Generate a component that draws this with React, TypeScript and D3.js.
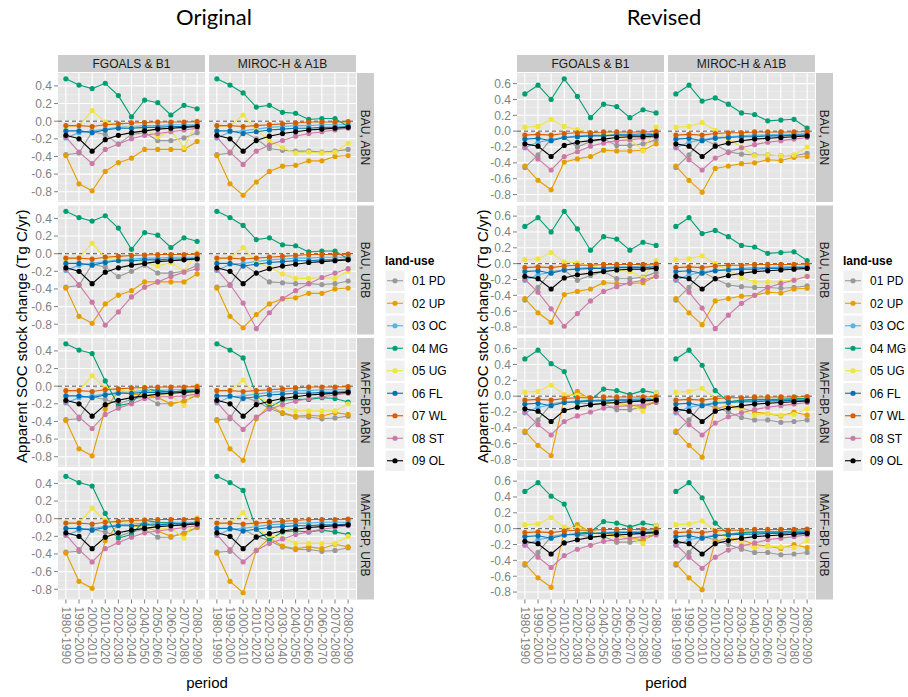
import React, { useEffect, useRef } from "react";
import * as d3 from "d3";

const periods = [
  "1980-1990", "1990-2000", "2000-2010", "2010-2020", "2020-2030", "2030-2040",
  "2040-2050", "2050-2060", "2060-2070", "2070-2080", "2080-2090",
];
const landUse = ["01 PD", "02 UP", "03 OC", "04 MG", "05 UG", "06 FL", "07 WL", "08 ST", "09 OL"];
const landUseColors = ["#999999", "#E69F00", "#56B4E9", "#009E73", "#F0E442", "#0072B2", "#D55E00", "#CC79A7", "#000000"];
const models = ["FGOALS & B1", "MIROC-H & A1B"];
const scenarios = ["BAU, ABN", "BAU, URB", "MAFF-BP, ABN", "MAFF-BP, URB"];
const originalTicks = [-0.8, -0.6, -0.4, -0.2, 0, 0.2, 0.4];
const revisedTicks = [-0.8, -0.6, -0.4, -0.2, 0, 0.2, 0.4, 0.6];

// rows shared between scenarios
const origFgOC = [-0.19, -0.13, -0.11, -0.09, -0.07, -0.06, -0.05, -0.05, -0.04, -0.04, -0.04];
const origFgFL = [-0.11, -0.11, -0.13, -0.1, -0.08, -0.08, -0.07, -0.07, -0.06, -0.06, -0.05];
const origFgWL = [-0.05, -0.05, -0.06, -0.04, -0.03, -0.02, -0.015, -0.01, -0.01, -0.01, -0.005];
const origMiOC = [-0.19, -0.12, -0.11, -0.09, -0.07, -0.06, -0.05, -0.05, -0.04, -0.04, -0.04];
const origMiFL = [-0.11, -0.11, -0.14, -0.12, -0.1, -0.09, -0.08, -0.08, -0.07, -0.07, -0.06];
const origMiWL = [-0.05, -0.05, -0.06, -0.05, -0.04, -0.03, -0.02, -0.01, -0.01, -0.01, -0.005];
const revFgOC = [-0.21, -0.14, -0.11, -0.08, -0.06, -0.05, -0.05, -0.04, -0.04, -0.03, -0.03];
const revFgFL = [-0.1, -0.09, -0.12, -0.08, -0.07, -0.06, -0.06, -0.05, -0.05, -0.05, -0.04];
const revMiOC = [-0.21, -0.14, -0.11, -0.08, -0.07, -0.06, -0.05, -0.05, -0.04, -0.04, -0.03];
const revMiFL = [-0.1, -0.09, -0.12, -0.09, -0.08, -0.07, -0.07, -0.06, -0.06, -0.05, -0.05];
const revWL = [-0.05, -0.04, -0.05, -0.03, -0.02, -0.02, -0.01, -0.01, -0.01, -0.01, -0.005];

// panels: rows in landUse order PD, UP, OC, MG, UG, FL, WL, ST, OL
const origFgBauAbn = [
  [-0.38, -0.36, -0.12, -0.15, -0.26, -0.15, -0.13, -0.22, -0.22, -0.19, -0.13],
  [-0.39, -0.71, -0.79, -0.57, -0.47, -0.42, -0.32, -0.32, -0.32, -0.32, -0.23],
  origFgOC,
  [0.48, 0.41, 0.37, 0.43, 0.29, 0.05, 0.24, 0.21, 0.07, 0.18, 0.14],
  [-0.06, -0.05, 0.12, -0.01, -0.04, -0.06, -0.09, -0.18, -0.11, -0.3, 0.0],
  origFgFL,
  origFgWL,
  [-0.18, -0.35, -0.48, -0.32, -0.26, -0.2, -0.16, -0.14, -0.12, -0.1, -0.08],
  [-0.16, -0.2, -0.34, -0.21, -0.16, -0.13, -0.11, -0.09, -0.08, -0.07, -0.06],
];
const origMiBauAbn = [
  [-0.38, -0.36, -0.12, -0.2, -0.31, -0.33, -0.34, -0.34, -0.35, -0.34, -0.32],
  [-0.39, -0.71, -0.84, -0.69, -0.57, -0.51, -0.5, -0.45, -0.45, -0.4, -0.39],
  origMiOC,
  [0.48, 0.41, 0.32, 0.16, 0.18, 0.1, 0.09, 0.02, 0.03, 0.03, -0.06],
  [-0.06, -0.05, 0.07, -0.1, -0.22, -0.3, -0.36, -0.35, -0.36, -0.35, -0.25],
  origMiFL,
  origMiWL,
  [-0.18, -0.35, -0.49, -0.34, -0.27, -0.22, -0.17, -0.14, -0.12, -0.1, -0.08],
  [-0.16, -0.2, -0.34, -0.22, -0.17, -0.14, -0.12, -0.1, -0.09, -0.08, -0.07],
];
const origFgBauUrb = [
  [-0.38, -0.36, -0.12, -0.15, -0.26, -0.2, -0.13, -0.22, -0.22, -0.2, -0.13],
  [-0.39, -0.71, -0.79, -0.57, -0.47, -0.42, -0.32, -0.32, -0.32, -0.32, -0.23],
  origFgOC,
  [0.48, 0.41, 0.37, 0.43, 0.29, 0.05, 0.24, 0.21, 0.07, 0.18, 0.14],
  [-0.06, -0.05, 0.12, -0.05, -0.07, -0.08, -0.1, -0.14, -0.1, -0.2, 0.01],
  origFgFL,
  origFgWL,
  [-0.18, -0.35, -0.55, -0.81, -0.66, -0.49, -0.38, -0.32, -0.26, -0.21, -0.17],
  [-0.16, -0.2, -0.34, -0.21, -0.16, -0.13, -0.11, -0.09, -0.08, -0.07, -0.06],
];
const origMiBauUrb = [
  [-0.38, -0.36, -0.12, -0.22, -0.32, -0.33, -0.34, -0.34, -0.35, -0.34, -0.31],
  [-0.39, -0.71, -0.84, -0.69, -0.57, -0.51, -0.5, -0.45, -0.45, -0.4, -0.39],
  origMiOC,
  [0.48, 0.41, 0.32, 0.16, 0.18, 0.1, 0.09, 0.02, 0.03, 0.03, -0.06],
  [-0.06, -0.05, 0.07, -0.1, -0.15, -0.23, -0.28, -0.28, -0.27, -0.28, -0.2],
  origMiFL,
  origMiWL,
  [-0.18, -0.35, -0.56, -0.85, -0.67, -0.51, -0.42, -0.34, -0.27, -0.22, -0.17],
  [-0.16, -0.2, -0.34, -0.22, -0.17, -0.14, -0.12, -0.1, -0.09, -0.08, -0.07],
];
const origFgMaffAbn = [
  [-0.38, -0.37, -0.12, -0.15, -0.2, -0.15, -0.12, -0.2, -0.2, -0.17, -0.1],
  [-0.39, -0.71, -0.79, -0.26, -0.06, -0.09, -0.1, -0.13, -0.2, -0.17, -0.1],
  origFgOC,
  [0.48, 0.41, 0.37, 0.06, -0.22, -0.19, -0.03, -0.05, -0.07, -0.05, -0.04],
  [-0.06, -0.05, 0.12, -0.02, -0.05, -0.06, -0.01, -0.1, -0.1, -0.22, 0.01],
  origFgFL,
  origFgWL,
  [-0.18, -0.35, -0.48, -0.32, -0.25, -0.2, -0.14, -0.12, -0.12, -0.11, -0.09],
  [-0.16, -0.2, -0.34, -0.21, -0.16, -0.13, -0.11, -0.09, -0.08, -0.07, -0.06],
];
const origMiMaffAbn = [
  [-0.38, -0.37, -0.12, -0.17, -0.25, -0.31, -0.35, -0.35, -0.37, -0.36, -0.34],
  [-0.39, -0.71, -0.84, -0.37, -0.22, -0.3, -0.34, -0.33, -0.34, -0.3, -0.32],
  origMiOC,
  [0.48, 0.41, 0.32, -0.1, -0.24, -0.16, -0.15, -0.15, -0.13, -0.14, -0.18],
  [-0.06, -0.05, 0.07, -0.12, -0.18, -0.23, -0.28, -0.28, -0.28, -0.28, -0.2],
  origMiFL,
  origMiWL,
  [-0.18, -0.35, -0.49, -0.35, -0.26, -0.21, -0.17, -0.14, -0.12, -0.1, -0.08],
  [-0.16, -0.2, -0.34, -0.21, -0.17, -0.14, -0.12, -0.1, -0.09, -0.08, -0.07],
];
const origFgMaffUrb = [
  [-0.38, -0.37, -0.12, -0.15, -0.2, -0.15, -0.12, -0.21, -0.21, -0.16, -0.1],
  [-0.39, -0.71, -0.79, -0.25, -0.06, -0.08, -0.1, -0.14, -0.2, -0.17, -0.1],
  origFgOC,
  [0.48, 0.41, 0.37, 0.06, -0.22, -0.18, -0.02, -0.04, -0.05, -0.06, -0.04],
  [-0.06, -0.05, 0.12, -0.02, -0.05, -0.05, -0.01, -0.12, -0.1, -0.22, 0.01],
  origFgFL,
  origFgWL,
  [-0.18, -0.35, -0.49, -0.34, -0.27, -0.21, -0.16, -0.14, -0.12, -0.1, -0.08],
  [-0.16, -0.2, -0.34, -0.21, -0.16, -0.13, -0.11, -0.09, -0.08, -0.07, -0.06],
];
const origMiMaffUrb = [
  [-0.38, -0.37, -0.12, -0.2, -0.25, -0.32, -0.35, -0.35, -0.37, -0.36, -0.33],
  [-0.39, -0.71, -0.84, -0.36, -0.22, -0.31, -0.34, -0.32, -0.34, -0.29, -0.32],
  origMiOC,
  [0.48, 0.41, 0.32, -0.12, -0.24, -0.15, -0.14, -0.15, -0.13, -0.15, -0.18],
  [-0.06, -0.05, 0.07, -0.12, -0.19, -0.22, -0.28, -0.28, -0.28, -0.28, -0.2],
  origMiFL,
  origMiWL,
  [-0.18, -0.35, -0.49, -0.36, -0.28, -0.23, -0.18, -0.15, -0.12, -0.1, -0.08],
  [-0.16, -0.2, -0.34, -0.21, -0.17, -0.14, -0.12, -0.1, -0.09, -0.08, -0.07],
];

const revFgBauAbn = [
  [-0.46, -0.3, -0.1, -0.08, -0.2, -0.13, -0.1, -0.18, -0.18, -0.16, -0.11],
  [-0.44, -0.62, -0.74, -0.39, -0.35, -0.32, -0.24, -0.25, -0.25, -0.24, -0.16],
  revFgOC,
  [0.47, 0.58, 0.4, 0.66, 0.44, 0.17, 0.34, 0.31, 0.17, 0.27, 0.23],
  [0.05, 0.06, 0.15, 0.06, 0.02, -0.02, -0.04, -0.06, -0.1, -0.25, 0.05],
  revFgFL,
  revWL,
  [-0.2, -0.35, -0.49, -0.32, -0.26, -0.19, -0.15, -0.12, -0.11, -0.09, -0.07],
  [-0.16, -0.19, -0.32, -0.18, -0.14, -0.12, -0.1, -0.08, -0.07, -0.07, -0.06],
];
const revMiBauAbn = [
  [-0.46, -0.3, -0.1, -0.17, -0.26, -0.29, -0.3, -0.3, -0.31, -0.31, -0.28],
  [-0.44, -0.62, -0.77, -0.47, -0.44, -0.41, -0.4, -0.36, -0.37, -0.33, -0.32],
  revMiOC,
  [0.47, 0.58, 0.38, 0.42, 0.34, 0.23, 0.21, 0.13, 0.14, 0.15, 0.04],
  [0.05, 0.06, 0.11, 0.01, -0.1, -0.2, -0.31, -0.3, -0.31, -0.3, -0.2],
  revMiFL,
  revWL,
  [-0.2, -0.36, -0.49, -0.34, -0.27, -0.21, -0.17, -0.14, -0.12, -0.1, -0.08],
  [-0.16, -0.19, -0.32, -0.19, -0.15, -0.12, -0.1, -0.09, -0.08, -0.07, -0.06],
];
const revFgBauUrb = [
  [-0.46, -0.3, -0.1, -0.08, -0.21, -0.15, -0.1, -0.19, -0.19, -0.17, -0.11],
  [-0.44, -0.62, -0.74, -0.39, -0.35, -0.32, -0.24, -0.25, -0.25, -0.24, -0.16],
  revFgOC,
  [0.47, 0.58, 0.4, 0.66, 0.44, 0.17, 0.34, 0.31, 0.17, 0.27, 0.23],
  [0.05, 0.06, 0.14, 0.02, 0.01, -0.03, -0.06, -0.08, -0.1, -0.18, 0.04],
  revFgFL,
  revWL,
  [-0.2, -0.36, -0.57, -0.79, -0.63, -0.47, -0.35, -0.29, -0.24, -0.21, -0.16],
  [-0.16, -0.19, -0.32, -0.18, -0.14, -0.12, -0.1, -0.08, -0.07, -0.07, -0.06],
];
const revMiBauUrb = [
  [-0.46, -0.3, -0.1, -0.19, -0.27, -0.29, -0.3, -0.3, -0.31, -0.3, -0.28],
  [-0.44, -0.62, -0.77, -0.47, -0.44, -0.41, -0.4, -0.36, -0.37, -0.32, -0.31],
  revMiOC,
  [0.47, 0.58, 0.38, 0.42, 0.34, 0.23, 0.21, 0.13, 0.14, 0.15, 0.04],
  [0.05, 0.06, 0.1, 0.0, -0.08, -0.18, -0.23, -0.23, -0.23, -0.2, -0.16],
  revMiFL,
  revWL,
  [-0.2, -0.36, -0.56, -0.82, -0.65, -0.5, -0.4, -0.3, -0.25, -0.21, -0.16],
  [-0.16, -0.19, -0.32, -0.19, -0.15, -0.12, -0.1, -0.09, -0.08, -0.07, -0.06],
];
const revFgMaffAbn = [
  [-0.46, -0.3, -0.1, -0.07, -0.08, -0.1, -0.1, -0.17, -0.17, -0.14, -0.07],
  [-0.44, -0.62, -0.75, -0.03, 0.06, -0.04, -0.06, -0.09, -0.12, -0.13, -0.06],
  revFgOC,
  [0.47, 0.58, 0.41, 0.31, -0.08, -0.05, 0.09, 0.07, 0.02, 0.07, 0.04],
  [0.05, 0.06, 0.14, 0.02, 0.01, -0.03, -0.07, -0.1, -0.1, -0.19, 0.04],
  revFgFL,
  revWL,
  [-0.2, -0.36, -0.49, -0.32, -0.25, -0.2, -0.15, -0.13, -0.12, -0.11, -0.08],
  [-0.16, -0.19, -0.32, -0.18, -0.14, -0.11, -0.09, -0.08, -0.07, -0.06, -0.05],
];
const revMiMaffAbn = [
  [-0.46, -0.3, -0.1, -0.14, -0.2, -0.27, -0.3, -0.3, -0.33, -0.32, -0.3],
  [-0.44, -0.62, -0.77, -0.16, -0.12, -0.15, -0.2, -0.22, -0.25, -0.2, -0.24],
  revMiOC,
  [0.47, 0.58, 0.39, 0.07, -0.07, -0.05, -0.04, -0.04, -0.04, -0.03, -0.03],
  [0.05, 0.06, 0.1, -0.03, -0.12, -0.18, -0.24, -0.22, -0.24, -0.23, -0.16],
  revMiFL,
  revWL,
  [-0.2, -0.36, -0.49, -0.34, -0.26, -0.21, -0.17, -0.14, -0.12, -0.1, -0.08],
  [-0.16, -0.19, -0.32, -0.19, -0.15, -0.12, -0.1, -0.09, -0.08, -0.07, -0.06],
];
const revFgMaffUrb = [
  [-0.46, -0.3, -0.1, -0.07, -0.08, -0.1, -0.1, -0.17, -0.17, -0.14, -0.07],
  [-0.44, -0.62, -0.74, -0.03, 0.05, -0.04, -0.06, -0.08, -0.12, -0.14, -0.06],
  revFgOC,
  [0.47, 0.58, 0.41, 0.31, -0.06, -0.04, 0.09, 0.07, 0.02, 0.07, 0.04],
  [0.05, 0.06, 0.14, 0.02, 0.01, -0.03, -0.08, -0.1, -0.11, -0.19, 0.04],
  revFgFL,
  revWL,
  [-0.2, -0.36, -0.49, -0.34, -0.26, -0.21, -0.16, -0.14, -0.12, -0.1, -0.08],
  [-0.16, -0.19, -0.32, -0.18, -0.14, -0.11, -0.09, -0.08, -0.07, -0.06, -0.05],
];
const revMiMaffUrb = [
  [-0.46, -0.3, -0.1, -0.14, -0.2, -0.26, -0.3, -0.3, -0.33, -0.32, -0.3],
  [-0.44, -0.62, -0.77, -0.16, -0.12, -0.14, -0.2, -0.22, -0.25, -0.2, -0.24],
  revMiOC,
  [0.47, 0.58, 0.39, 0.07, -0.07, -0.05, -0.04, -0.04, -0.04, -0.03, -0.03],
  [0.05, 0.06, 0.1, -0.03, -0.12, -0.18, -0.24, -0.22, -0.23, -0.24, -0.15],
  revMiFL,
  revWL,
  [-0.2, -0.36, -0.5, -0.36, -0.27, -0.22, -0.18, -0.14, -0.12, -0.1, -0.08],
  [-0.16, -0.19, -0.32, -0.19, -0.15, -0.12, -0.1, -0.09, -0.08, -0.07, -0.06],
];

const originalPanels = [
  [origFgBauAbn, origMiBauAbn],
  [origFgBauUrb, origMiBauUrb],
  [origFgMaffAbn, origMiMaffAbn],
  [origFgMaffUrb, origMiMaffUrb],
];
const revisedPanels = [
  [revFgBauAbn, revMiBauAbn],
  [revFgBauUrb, revMiBauUrb],
  [revFgMaffAbn, revMiMaffAbn],
  [revFgMaffUrb, revMiMaffUrb],
];

const FONT = "'Liberation Sans', Arial, Helvetica, sans-serif";

const App = () => {
  const ref = useRef<SVGSVGElement>(null);

  useEffect(() => {
    const svg = d3.select(ref.current);
    svg.selectAll("*").remove();

    const PW = 147;
    const PH = 129;
    const gapX = 4;
    const rowTops = [73, 205.5, 338, 470.5];

    const plots = [
      { title: "Original", x0: 58, titleX: 214, yTitleX: 22, legendX: 385, panels: originalPanels, ticks: originalTicks },
      { title: "Revised", x0: 517, titleX: 664, yTitleX: 483, legendX: 843, panels: revisedPanels, ticks: revisedTicks },
    ];

    plots.forEach((p) => {
      const root = svg.append("g").style("font-family", FONT);

      // y scale with ggplot-like 5% expansion
      const all = p.panels.flat(3) as number[];
      const [lo, hi] = d3.extent(all) as [number, number];
      const pad = (hi - lo) * 0.05;
      const y = d3.scaleLinear().domain([lo - pad, hi + pad]).range([PH, 0]);
      const x = d3.scalePoint<string>().domain(periods).range([0, PW]).padding(0.6);
      const minor = d3.range(-0.9, hi + pad, 0.2).filter((v) => v > lo - pad);

      const line = d3
        .line<number>()
        .x((_, i) => x(periods[i]) as number)
        .y((v) => y(v));

      root
        .append("text")
        .attr("x", p.titleX)
        .attr("y", 25)
        .attr("text-anchor", "middle")
        .style("font-family", "Lato, 'Open Sans', sans-serif")
        .style("font-size", "22px")
        .text(p.title);

      p.panels.forEach((rowPanels, r) => {
        rowPanels.forEach((panel, c) => {
          const px = p.x0 + c * (PW + gapX);
          const g = root.append("g").attr("transform", `translate(${px},${rowTops[r]})`);
          g.append("rect").attr("width", PW).attr("height", PH).attr("fill", "#e5e5e5");

          g.selectAll(".minor")
            .data(minor)
            .enter()
            .append("line")
            .attr("x1", 0)
            .attr("x2", PW)
            .attr("y1", (d) => y(d))
            .attr("y2", (d) => y(d))
            .attr("stroke", "#f2f2f2")
            .attr("stroke-width", 0.6);
          g.selectAll(".majorY")
            .data(p.ticks)
            .enter()
            .append("line")
            .attr("x1", 0)
            .attr("x2", PW)
            .attr("y1", (d) => y(d))
            .attr("y2", (d) => y(d))
            .attr("stroke", "#ffffff")
            .attr("stroke-width", 1.1);
          g.selectAll(".majorX")
            .data(periods)
            .enter()
            .append("line")
            .attr("x1", (d) => x(d) as number)
            .attr("x2", (d) => x(d) as number)
            .attr("y1", 0)
            .attr("y2", PH)
            .attr("stroke", "#ffffff")
            .attr("stroke-width", 1.1);

          g.append("line")
            .attr("x1", 0)
            .attr("x2", PW)
            .attr("y1", y(0))
            .attr("y2", y(0))
            .attr("stroke", "#555555")
            .attr("stroke-width", 1)
            .attr("stroke-dasharray", "4 3");

          g.selectAll(".series")
            .data(panel)
            .enter()
            .append("path")
            .attr("d", (d) => line(d))
            .attr("fill", "none")
            .attr("stroke", (_, i) => landUseColors[i])
            .attr("stroke-width", 1.1);

          panel.forEach((vals, i) => {
            g.selectAll(`.pt${i}`)
              .data(vals)
              .enter()
              .append("circle")
              .attr("cx", (_, j) => x(periods[j]) as number)
              .attr("cy", (v) => y(v))
              .attr("r", 2.6)
              .attr("fill", landUseColors[i]);
          });

          // y axis
          if (c === 0) {
            g.selectAll(".ytick")
              .data(p.ticks)
              .enter()
              .append("line")
              .attr("x1", -4)
              .attr("x2", 0)
              .attr("y1", (d) => y(d))
              .attr("y2", (d) => y(d))
              .attr("stroke", "#7f7f7f");
            g.selectAll(".ylab")
              .data(p.ticks)
              .enter()
              .append("text")
              .attr("x", -6)
              .attr("y", (d) => y(d))
              .attr("dy", "0.36em")
              .attr("text-anchor", "end")
              .attr("fill", "#7f7f7f")
              .style("font-size", "12px")
              .text((d) => d3.format(".1f")(d).replace("−", "-"));
          }

          // x axis on bottom row
          if (r === rowTops.length - 1) {
            g.selectAll(".xtick")
              .data(periods)
              .enter()
              .append("line")
              .attr("x1", (d) => x(d) as number)
              .attr("x2", (d) => x(d) as number)
              .attr("y1", PH)
              .attr("y2", PH + 4)
              .attr("stroke", "#7f7f7f");
            g.selectAll(".xlab")
              .data(periods)
              .enter()
              .append("text")
              .attr("transform", (d) => `translate(${x(d)},${PH + 7}) rotate(90)`)
              .attr("dy", "0.36em")
              .attr("fill", "#7f7f7f")
              .style("font-size", "12px")
              .text((d) => d);
          }

          // top strips
          if (r === 0) {
            root
              .append("rect")
              .attr("x", px)
              .attr("y", 55)
              .attr("width", PW)
              .attr("height", 17)
              .attr("fill", "#cccccc");
            root
              .append("text")
              .attr("x", px + PW / 2)
              .attr("y", 63.5)
              .attr("dy", "0.36em")
              .attr("text-anchor", "middle")
              .attr("fill", "#1a1a1a")
              .style("font-size", "12px")
              .text(models[c]);
          }
        });

        // right strip
        const sx = p.x0 + 2 * PW + gapX + 1;
        root
          .append("rect")
          .attr("x", sx)
          .attr("y", rowTops[r])
          .attr("width", 17)
          .attr("height", PH)
          .attr("fill", "#cccccc");
        root
          .append("text")
          .attr("transform", `translate(${sx + 8.5},${rowTops[r] + PH / 2}) rotate(90)`)
          .attr("dy", "0.36em")
          .attr("text-anchor", "middle")
          .attr("fill", "#1a1a1a")
          .style("font-size", "12px")
          .text(scenarios[r]);
      });

      // axis titles
      const midX = p.x0 + PW + gapX / 2;
      root
        .append("text")
        .attr("x", midX)
        .attr("y", 688)
        .attr("text-anchor", "middle")
        .style("font-size", "15px")
        .text("period");
      const midY = (rowTops[0] + rowTops[3] + PH) / 2;
      root
        .append("text")
        .attr("transform", `translate(${p.yTitleX},${midY}) rotate(-90)`)
        .attr("dy", "0.36em")
        .attr("text-anchor", "middle")
        .style("font-size", "15px")
        .text("Apparent SOC stock change (Tg C/yr)");

      // legend
      const lg = root.append("g").attr("transform", `translate(${p.legendX},0)`);
      lg.append("text")
        .attr("x", 0)
        .attr("y", 265)
        .style("font-size", "12px")
        .style("font-weight", "bold")
        .text("land-use");
      const keys = lg
        .selectAll(".key")
        .data(landUse)
        .enter()
        .append("g")
        .attr("transform", (_, i) => `translate(0,${270 + i * 22.5})`);
      keys
        .append("rect")
        .attr("width", 20)
        .attr("height", 21.5)
        .attr("fill", "#f0f0f0")
        .attr("stroke", "#ffffff")
        .attr("stroke-width", 1);
      keys
        .append("line")
        .attr("x1", 2)
        .attr("x2", 18)
        .attr("y1", 10.75)
        .attr("y2", 10.75)
        .attr("stroke", (_, i) => landUseColors[i])
        .attr("stroke-width", 1.1);
      keys
        .append("circle")
        .attr("cx", 10)
        .attr("cy", 10.75)
        .attr("r", 2.6)
        .attr("fill", (_, i) => landUseColors[i]);
      keys
        .append("text")
        .attr("x", 27)
        .attr("y", 10.75)
        .attr("dy", "0.36em")
        .style("font-size", "12px")
        .text((d) => d);
    });
  }, []);

  return (
    <svg
      ref={ref}
      width={908}
      height={697}
      style={{ position: "absolute", left: 0, top: 0, background: "#ffffff" }}
    ></svg>
  );
};

export default App;
